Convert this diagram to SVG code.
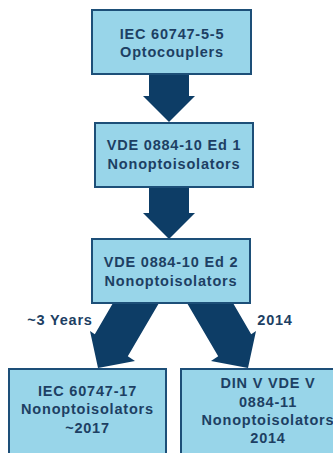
<svg xmlns="http://www.w3.org/2000/svg" width="333" height="453" viewBox="0 0 333 453">
<style>
.box{fill:#98d5e9;stroke:#1d4f78;stroke-width:2}
.arr{fill:#0d3d66}
text{font-family:"Liberation Sans",Arial,sans-serif;font-weight:bold;font-size:14.5px;fill:#1d3f63;text-anchor:middle;letter-spacing:0.8px}
</style>
<rect width="333" height="453" fill="#ffffff"/>
<g id="connectors">
<polygon class="arr" points="149,74 189,74 189,96 195,96 169,122 143,96 149,96"/>
<polygon class="arr" points="149,187 189,187 189,213 195,213 169,239 143,213 149,213"/>
<polygon class="arr" points="113,303 159,303 127.8,356.2 135,361 98,368 90,331 94.8,334.2"/>
<polygon class="arr" points="187,303 233,303 251.2,334.2 256,331 248,368 211,361 218.2,356.2"/>
<text x="60" y="325">~3 Years</text>
<text x="275" y="325">2014</text>
</g>
<g id="n1">
<rect class="box" x="92" y="10" width="159" height="64"/>
<text x="172" y="39">IEC 60747-5-5</text>
<text x="172" y="57">Optocouplers</text>
</g>
<g id="n2">
<rect class="box" x="95" y="123" width="158" height="64"/>
<text x="174" y="150">VDE 0884-10 Ed 1</text>
<text x="174" y="169">Nonoptoisolators</text>
</g>
<g id="n3">
<rect class="box" x="92" y="239" width="158" height="64"/>
<text x="171" y="267">VDE 0884-10 Ed 2</text>
<text x="171" y="286">Nonoptoisolators</text>
</g>
<g id="n4">
<rect class="box" x="9" y="369" width="157" height="100"/>
<text x="87.5" y="396">IEC 60747-17</text>
<text x="87.5" y="414">Nonoptoisolators</text>
<text x="87.5" y="433">~2017</text>
</g>
<g id="n5">
<rect class="box" x="181" y="369" width="170" height="100"/>
<text x="268" y="388">DIN V VDE V</text>
<text x="268" y="407">0884-11</text>
<text x="268" y="425">Nonoptoisolators</text>
<text x="268" y="443">2014</text>
</g>
</svg>
